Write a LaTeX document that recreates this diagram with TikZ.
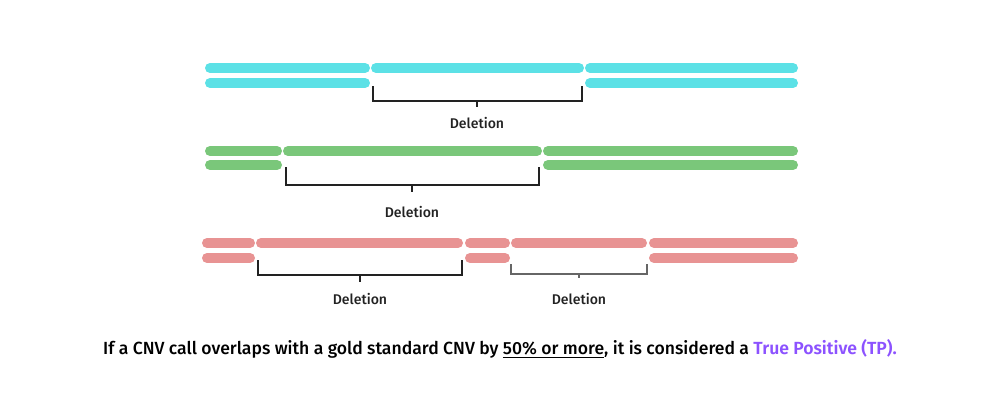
\documentclass[tikz,border=0pt]{standalone}
\usepackage{fontspec}
\setmainfont{Fira Sans}[UprightFont={* Medium},BoldFont={* SemiBold}]
\definecolor{cnvcyan}{HTML}{5CE1E6}
\definecolor{cnvgreen}{HTML}{7AC77A}
\definecolor{cnvred}{HTML}{E89393}
\definecolor{tppurple}{HTML}{8C52FF}
\definecolor{brackblack}{HTML}{222222}
\definecolor{brackgray}{HTML}{666666}
\tikzset{
  bar/.style={line width=2mm,line cap=round},
  cyanbar/.style={bar,cnvcyan},
  greenbar/.style={bar,cnvgreen},
  redbar/.style={bar,cnvred},
  bracket/.style={line width=0.4mm,brackblack},
  thinbracket/.style={line width=0.26mm,brackgray},
  dellabel/.style={anchor=base,font=\fontsize{8}{10}\selectfont,text=brackblack,inner sep=0pt}
}
\begin{document}
\begin{tikzpicture}[x=0.2mm,y=-0.2mm]
				\useasboundingbox (0,0) rectangle (1000,400);
				\draw[cyanbar] (210,68) -- (365,68);
				\draw[cyanbar] (376,68) -- (579,68);
				\draw[cyanbar] (590,68) -- (793,68);
				\draw[cyanbar] (210,83) -- (365,83);
				\draw[cyanbar] (590,83) -- (793,83);
				\draw[bracket] (373,86) -- (373,101) -- (582,101) -- (582,86);
				\draw[bracket] (477,101) -- (477,107);
				\node[dellabel] (del1) at (477,128) {Deletion};
				\draw[greenbar] (210,151) -- (277,151);
				\draw[greenbar] (288,151) -- (537,151);
				\draw[greenbar] (548,151) -- (793,151);
				\draw[greenbar] (210,165) -- (277,165);
				\draw[greenbar] (548,165) -- (793,165);
				\draw[bracket] (286,167) -- (286,185) -- (539,185) -- (539,167);
				\draw[bracket] (412,185) -- (412,192);
				\node[dellabel] (del2) at (412,217) {Deletion};
				\draw[redbar] (207,243) -- (250,243);
				\draw[redbar] (261,243) -- (458,243);
				\draw[redbar] (470,243) -- (505,243);
				\draw[redbar] (516,243) -- (642,243);
				\draw[redbar] (654,243) -- (793,243);
				\draw[redbar] (207,258) -- (250,258);
				\draw[redbar] (470,258) -- (505,258);
				\draw[redbar] (654,258) -- (793,258);
				\draw[bracket] (258,260) -- (258,275) -- (462,275) -- (462,260);
				\draw[bracket] (360,275) -- (360,282);
				\node[dellabel] (del3) at (360,304) {Deletion};
				\draw[thinbracket] (511,264) -- (511,274) -- (647,274) -- (647,264);
				\draw[thinbracket] (579,274) -- (579,278);
				\node[dellabel] (del4) at (579,304) {Deletion};
				\node[anchor=base,inner sep=0pt,font=\fontsize{10}{12}\selectfont] (caption) at (500,354)
					{If a CNV call overlaps with a gold standard CNV by \underline{50\% or more}, it is considered a \textcolor{tppurple}{\textbf{True Positive (TP).}}};
			\end{tikzpicture}
\end{document}
